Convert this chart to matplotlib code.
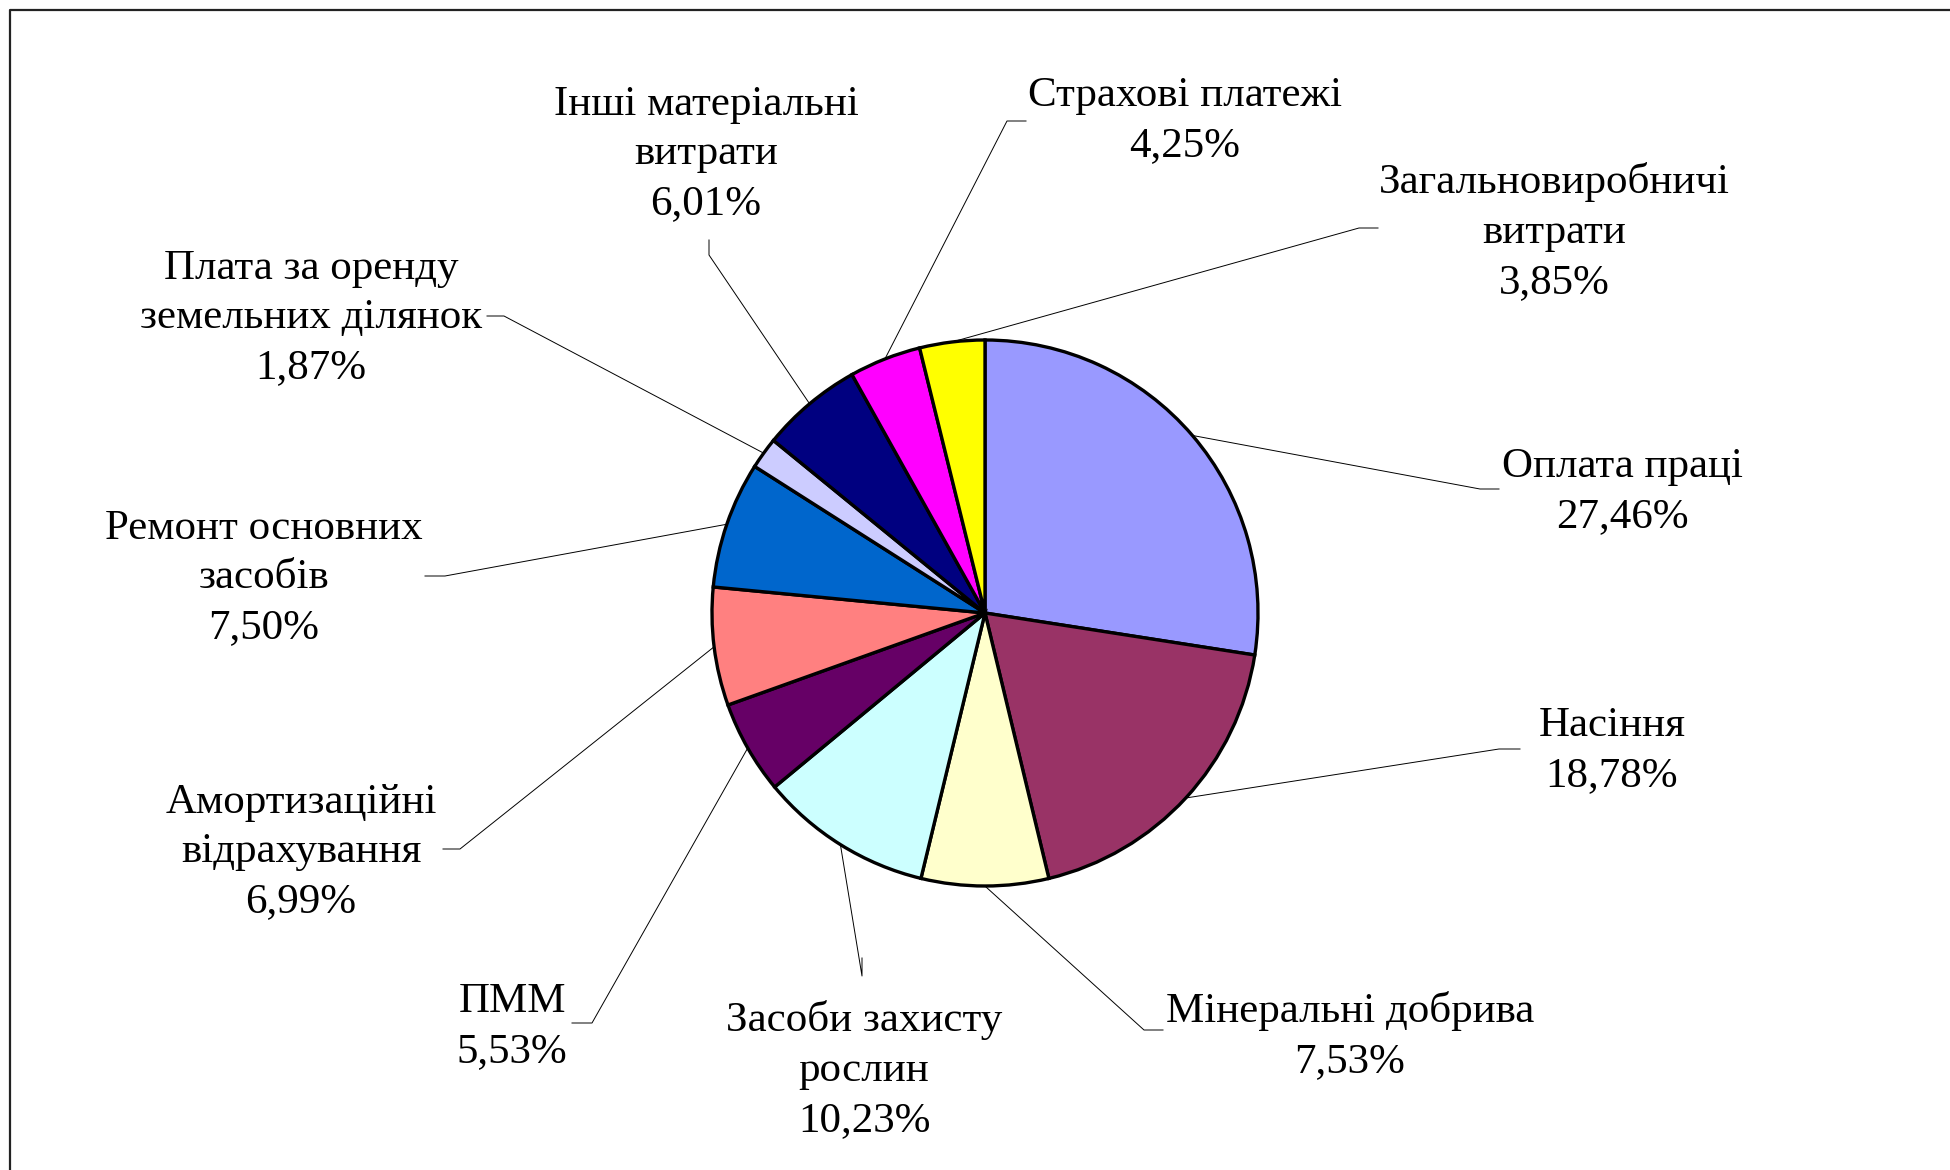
import numpy as np
import matplotlib
matplotlib.use("Agg")
import matplotlib.pyplot as plt

# cost structure, share of total (%)
categories = [
    "Оплата праці",
    "Насіння",
    "Мінеральні добрива",
    "Засоби захисту\nрослин",
    "ПММ",
    "Амортизаційні\nвідрахування",
    "Ремонт основних\nзасобів",
    "Плата за оренду\nземельних ділянок",
    "Інші матеріальні\nвитрати",
    "Страхові платежі",
    "Загальновиробничі\nвитрати",
]
shares = [27.46, 18.78, 7.53, 10.23, 5.53, 6.99, 7.50, 1.87, 6.01, 4.25, 3.85]
colors = ["#9999FF", "#993366", "#FFFFCC", "#CCFFFF", "#660066", "#FF8080",
          "#0066CC", "#CCCCFF", "#000080", "#FF00FF", "#FFFF00"]

# label layout in image pixels (x, y from top): text centre, elbow, line end
label_pos = [(1622, 492), (1612, 751), (1350, 1036), (864, 1070), (512, 1027),
             (301, 852), (264, 578), (311, 318), (706, 154), (1185, 121), (1554, 232)]
elbows = [(1480, 489), (1499, 749), (1144, 1030), (862, 976), (592, 1023),
          (460, 849), (445, 576), (504, 316), (709, 255), (1007, 121), (1359, 228)]
ends = [(1499, 489), (1520, 749), (1163, 1030), (862, 958), (572, 1023),
        (443, 849), (425, 576), (487, 316), (709, 240), (1026, 121), (1378, 228)]

W, H = 1950, 1170
CX, CY, R = 985, 613, 273

plt.rcParams["font.family"] = ["Liberation Serif", "DejaVu Serif"]

fig = plt.figure(figsize=(W / 100, H / 100), dpi=100)
ax = fig.add_axes([0, 0, 1, 1])

wedges, _ = ax.pie(shares, colors=colors, startangle=90, counterclock=False,
                   center=(CX, H - CY), radius=R,
                   wedgeprops=dict(edgecolor="black", linewidth=2.4))

for w, lab, val, (tx, ty), (ex, ey), (fx, fy) in zip(
        wedges, categories, shares, label_pos, elbows, ends):
    mid = np.deg2rad((w.theta1 + w.theta2) / 2)
    px, py = CX + R * np.cos(mid), (H - CY) + R * np.sin(mid)
    ax.plot([px, ex, fx], [py, H - ey, H - fy], color="black", lw=0.7)
    txt = lab + "\n" + f"{val:.2f}".replace(".", ",") + "%"
    ax.text(tx, H - ty, txt, ha="center", va="center", fontsize=31,
            linespacing=1.38)

# outer frame (runs off the right and bottom edges)
ax.plot([10, 10, W + 20], [-20, H - 10, H - 10], color="#222222", lw=1.6)

ax.set_xlim(0, W)
ax.set_ylim(0, H)
ax.set_aspect("equal")
ax.axis("off")

fig.savefig("out.png", dpi=100, facecolor="white")
